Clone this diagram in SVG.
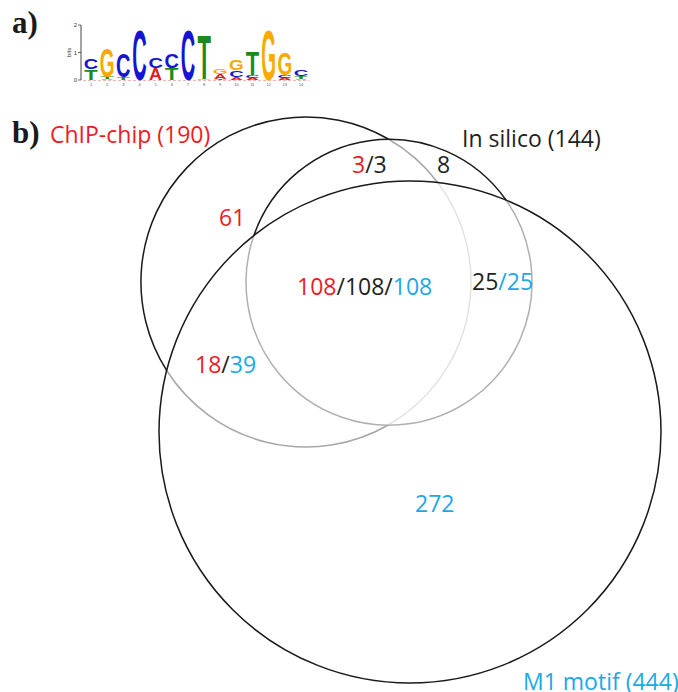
<svg xmlns="http://www.w3.org/2000/svg" width="678" height="692" viewBox="0 0 678 692">
<style>
.lbl{font-family:"Times New Roman","Liberation Serif",serif;font-weight:bold;font-size:31px;fill:#1a1a1a}
.t{font-family:"Open Sans","Noto Sans","Liberation Sans",sans-serif;font-size:23px}
.r{fill:#ed1c24}.k{fill:#231f20}.b{fill:#1ba8e6}
.L{font-family:"Liberation Sans",Arial,sans-serif;font-weight:bold;font-size:10px;text-anchor:middle}
.Lc{fill:#1414d2}.Lg{fill:#f7aa00}.Lt{fill:#1a8a1a}.La{fill:#dd1f1f}
.ax{font-family:"Liberation Sans",Arial,sans-serif;font-size:6px;fill:#333}
.pos{font-family:"Liberation Sans",Arial,sans-serif;font-size:4px;fill:#555}
.arc{fill:none;stroke-width:1.5}
</style>
<rect width="678" height="692" fill="#fff"/>
<g id="panel-a">
<text class="lbl" x="12" y="33">a)</text>
<g id="logo">
<line x1="81" y1="25" x2="81" y2="80" stroke="#444" stroke-width="1"/>
<line x1="78" y1="25" x2="81" y2="25" stroke="#444" stroke-width="0.8"/>
<line x1="78" y1="52.5" x2="81" y2="52.5" stroke="#444" stroke-width="0.8"/>
<line x1="78" y1="80" x2="81" y2="80" stroke="#444" stroke-width="0.8"/>
<text class="ax" x="77" y="27" text-anchor="end">2</text>
<text class="ax" x="77" y="54.5" text-anchor="end">1</text>
<text class="ax" x="77" y="82" text-anchor="end">0</text>
<text class="ax" transform="translate(71,52.5) rotate(-90)" text-anchor="middle" font-size="5">bits</text>
<line x1="83" y1="80.5" x2="309" y2="80.5" stroke="#f2a0a0" stroke-width="0.8" stroke-dasharray="3,2"/>
<!-- col 1 -->
<text class="L Lt" transform="translate(91,80) scale(2.2,1.54)">T</text>
<text class="L Lc" transform="translate(91,68.5) scale(2.0,1.54)">C</text>
<!-- col 2 -->
<text class="L La" transform="translate(107.2,80) scale(1.8,0.14)">A</text>
<text class="L Lt" transform="translate(107.2,79) scale(2.2,0.28)">T</text>
<text class="L Lg" transform="translate(107.2,77) scale(1.9,4.05)">G</text>
<!-- col 3 -->
<text class="L Lt" transform="translate(123.3,80) scale(2.2,0.42)">T</text>
<text class="L Lc" transform="translate(123.3,77) scale(2.0,3.35)">C</text>
<!-- col 4 -->
<text class="L Lc" transform="translate(139.5,80) scale(2.0,6.98)">C</text>
<!-- col 5 -->
<text class="L La" transform="translate(155.6,80) scale(1.8,1.68)">A</text>
<text class="L Lc" transform="translate(155.6,68) scale(2.0,1.40)">C</text>
<!-- col 6 -->
<text class="L Lt" transform="translate(171.8,80) scale(2.2,1.68)">T</text>
<text class="L Lc" transform="translate(171.8,68) scale(2.0,1.96)">C</text>
<!-- col 7 -->
<text class="L Lc" transform="translate(187.9,80) scale(2.0,6.98)">C</text>
<!-- col 8 -->
<text class="L Lg" transform="translate(204.1,80) scale(1.9,0.21)">G</text>
<text class="L Lt" transform="translate(204.1,78.5) scale(2.2,6.28)">T</text>
<!-- col 9 -->
<text class="L Lt" transform="translate(220.2,80) scale(2.2,0.14)">T</text>
<text class="L La" transform="translate(220.2,79) scale(1.8,0.70)">A</text>
<text class="L Lg" transform="translate(220.2,74) scale(1.9,0.70)">G</text>
<!-- col 10 -->
<text class="L La" transform="translate(236.4,80) scale(1.8,0.42)">A</text>
<text class="L Lc" transform="translate(236.4,77) scale(2.0,0.98)">C</text>
<text class="L Lg" transform="translate(236.4,69.5) scale(1.9,1.54)">G</text>
<!-- col 11 -->
<text class="L La" transform="translate(252.5,80) scale(1.8,0.35)">A</text>
<text class="L Lc" transform="translate(252.5,77.5) scale(2.0,0.42)">C</text>
<text class="L Lt" transform="translate(252.5,74.5) scale(2.2,3.35)">T</text>
<!-- col 12 -->
<text class="L Lg" transform="translate(268.7,80) scale(1.9,6.98)">G</text>
<!-- col 13 -->
<text class="L La" transform="translate(284.8,80) scale(1.8,0.28)">A</text>
<text class="L Lc" transform="translate(284.8,78) scale(2.0,0.42)">C</text>
<text class="L Lg" transform="translate(284.8,75) scale(1.9,3.07)">G</text>
<!-- col 14 -->
<text class="L La" transform="translate(301,80) scale(1.8,0.21)">A</text>
<text class="L Lt" transform="translate(301,78.5) scale(2.2,0.35)">T</text>
<text class="L Lc" transform="translate(301,76) scale(2.0,0.84)">C</text>
<!-- position numbers -->
<g class="pos" text-anchor="middle">
<text x="91" y="86">1</text><text x="107.2" y="86">2</text><text x="123.3" y="86">3</text><text x="139.5" y="86">4</text><text x="155.6" y="86">5</text><text x="171.8" y="86">6</text><text x="187.9" y="86">7</text><text x="204.1" y="86">8</text><text x="220.2" y="86">9</text><text x="236.4" y="86">10</text><text x="252.5" y="86">11</text><text x="268.7" y="86">12</text><text x="284.8" y="86">13</text><text x="301" y="86">14</text>
</g>
</g>
</g>
<g id="panel-b">
<text class="lbl" x="12" y="143">b)</text>
<g id="connectors">
<g id="chip-circle">
<path class="arc" stroke="#1a1a1a" d="M166.7,370.5 A165,165 0 0 1 388.3,139"/>
<path class="arc" stroke="#a8a8a8" d="M388.3,139 A165,165 0 0 1 437.7,182.5"/>
<path class="arc" stroke="#e2e2e2" d="M437.7,182.5 A165,165 0 0 1 388.3,425"/>
<path class="arc" stroke="#a8a8a8" d="M388.3,425 A165,165 0 0 1 166.7,370.5"/>
</g>
<g id="insilico-circle">
<path class="arc" stroke="#b0b0b0" d="M506.2,200.3 A143,143 0 1 1 253.8,235.7"/>
<path class="arc" stroke="#1a1a1a" d="M253.8,235.7 A143,143 0 0 1 506.2,200.3"/>
</g>
<g id="m1-circle">
<circle class="arc" stroke="#1a1a1a" cx="410" cy="432" r="251"/>
</g>
</g>
<g id="chip"><text class="t r" x="50" y="143">ChIP-chip (190)</text></g>
<g id="insilico"><text class="t k" x="462" y="147">In silico (144)</text></g>
<g id="m1"><text class="t b" x="523" y="690">M1 motif (444)</text></g>
<g id="counts" class="t">
<text x="352" y="173"><tspan class="r">3</tspan><tspan class="k">/3</tspan></text>
<text class="k" x="437" y="173">8</text>
<text class="r" x="219" y="226">61</text>
<text x="297" y="295"><tspan class="r">108</tspan><tspan class="k">/108/</tspan><tspan class="b">108</tspan></text>
<text x="472" y="290"><tspan class="k">25</tspan><tspan class="b">/25</tspan></text>
<text x="195" y="373"><tspan class="r">18</tspan><tspan class="k">/</tspan><tspan class="b">39</tspan></text>
<text class="b" x="415" y="512">272</text>
</g>
</g>
</svg>
